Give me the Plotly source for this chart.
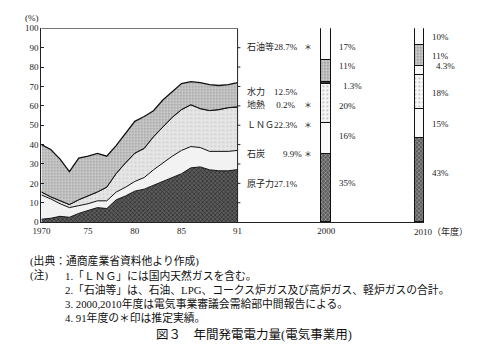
import plotly.graph_objects as go

# ---------------- data ----------------
years = list(range(1970, 1992))
nuclear = [1.5, 2, 3, 2.5, 4.5, 6, 7.5, 7, 11.5, 13.5, 16, 17, 19, 21, 23, 25, 28, 28.5, 27, 26.5, 26.5, 27.1]
coal = [12.5, 10, 6.5, 5, 4, 3.5, 3.5, 4, 4, 4.5, 5, 6, 8, 9.5, 11, 12, 11, 10, 9.5, 10, 10, 9.9]
lng = [1.5, 1, 1.5, 1.5, 3, 4, 4.5, 7, 9.5, 12.5, 14.5, 15, 17, 18.5, 20, 21, 21.5, 20, 21, 21.5, 22.5, 22.3]
geothermal = [0.1] * 21 + [0.2]
hydro = [24.4, 24.4, 21.4, 16.9, 21.4, 20.4, 19.9, 15.9, 14.4, 14.9, 16.4, 16.4, 13.4, 13.9,
         13.4, 13.4, 11.9, 13.4, 13.4, 12.4, 11.9, 12.5]

bar_years = [2000.5, 2010.5]
bar_nuclear = [35, 43]
bar_coal = [16, 15]
bar_lng = [20, 18]
bar_geo = [1.3, 4.3]
bar_hydro = [11, 11]
bar_oil = [17, 10]

x_tickvals = [1970, 1975, 1980, 1985, 1991, 2000.5]
x_ticktext = ["1970", "75", "80", "85", "91", "2000"]

side_labels = ["石油等28.7%", "水力　12.5%", "地熱　 0.2%", "ＬＮＧ22.3%", "石炭　　9.9%", "原子力27.1%"]
side_label_y = [43, 89, 102, 123, 153, 184]
side_star = [True, False, True, True, True, False]

bar2000_labels = ["17%", "11%", "1.3%", "20%", "16%", "35%"]
bar2000_y = [43, 63, 83, 104, 135, 183]
bar2000_x = [334, 334, 338, 334, 334, 334]
bar2010_labels = ["10%", "11%", "4.3%", "18%", "15%", "43%"]
bar2010_y = [33, 52, 63, 91, 123, 173]
bar2010_x = [429, 429, 433, 429, 429, 429]

notes = [
    "1.「ＬＮＧ」には国内天然ガスを含む。",
    "2.「石油等」は、石油、LPG、コークス炉ガス及び高炉ガス、軽炉ガスの合計。",
    "3. 2000,2010年度は電気事業審議会需給部中間報告による。",
    "4. 91年度の＊印は推定実績。",
]

W, H = 480, 351
def px(x):
    return x / W
def py(y):
    return 1 - y / H

SERIF = "Liberation Serif, Noto Sans CJK JP"
CJK = "Noto Sans CJK JP, Liberation Serif"

fig = go.Figure()

# ---------------- stacked areas ----------------
def area(name, vals, bg, fg=None, shape="", size=4, sol=0.3, lw=1):
    kw = dict(x=years, y=vals, name=name, mode="lines", stackgroup="one",
              line=dict(color="#111", width=lw), fillcolor=bg, hoverinfo="skip")
    if shape:
        kw["fillpattern"] = dict(shape=shape, bgcolor=bg, fgcolor=fg or bg, size=size,
                                 solidity=sol, fillmode="replace")
    fig.add_trace(go.Scatter(**kw))

area("原子力", nuclear, "#5c5c5c", "#222", "x", 3, 0.35)
area("石炭", coal, "#f2f2f2")
area("LNG", lng, "#e6e6e6", "#cfcfcf", ".", 4, 0.2)
area("地熱", geothermal, "#777", lw=1)
area("水力", hydro, "#cdcdcd", "#9a9a9a", ".", 3, 0.3, lw=1.3)

# ---------------- bars ----------------
def bar(vals, colors, shape="", fg="#222", size=3, sol=0.35):
    mk = dict(color=colors, line=dict(color="#111", width=1))
    if shape:
        mk["pattern"] = dict(shape=shape, fgcolor=fg, size=size, solidity=sol, fillmode="overlay")
    fig.add_trace(go.Bar(x=bar_years, y=vals, width=1.0, marker=mk, showlegend=False, hoverinfo="skip"))

bar(bar_nuclear, ["#5c5c5c", "#5c5c5c"], "x")
bar(bar_coal, ["#fafafa", "#fafafa"])
bar(bar_lng, ["#f6f6f6", "#f8f8f8"], ".", "#e0e0e0", 4, 0.15)
bar(bar_geo, ["#333", "#fafafa"])
bar(bar_hydro, ["#d0d0d0", "#d0d0d0"], ".", "#999", 3, 0.3)
bar(bar_oil, ["#fcfcfc", "#fcfcfc"])

# ---------------- frame ----------------
shapes = [
    dict(type="line", xref="x", yref="y", x0=years[0], x1=years[-1], y0=100, y1=100, line=dict(color="#222", width=1)),
    dict(type="line", xref="x", yref="y", x0=years[-1], x1=years[-1], y0=0, y1=100, line=dict(color="#222", width=1)),
]
for k in range(10, 100, 10):
    shapes.append(dict(type="line", xref="x", yref="y", x0=years[-1], x1=years[-1] + 0.3, y0=k, y1=k,
                       line=dict(color="#222", width=1)))

ann = []
def text(x, y, t, family=SERIF, size=9, anchor="left", h=None, color="#222"):
    d = dict(x=px(x), y=py(y), xref="paper", yref="paper", text=t, showarrow=False,
             xanchor=anchor, yanchor="middle", font=dict(family=family, size=size, color=color))
    if h:
        d["height"] = h
    ann.append(d)

text(14, 13, "(%)")
for t, yy, st in zip(side_labels, side_label_y, side_star):
    text(241, yy, t, h=11)
    if st:
        text(305, yy, "＊", family=CJK, size=8, anchor="center", h=11)
for t, xx, yy in zip(bar2000_labels, bar2000_x, bar2000_y):
    text(xx, yy, t, h=10)
for t, xx, yy in zip(bar2010_labels, bar2010_x, bar2010_y):
    text(xx, yy, t, h=10)
text(411, 233, "2010（年度）")

note_y = [278, 292, 307, 321]
text(19, 263, "(出典：通商産業省資料他より作成)", size=10.8, h=14, color="#111")
text(19, 278, "(注)", size=10.8, h=14, color="#111")
for t, yy in zip(notes, note_y):
    text(55, yy, t, size=10.8, h=14, color="#111")
text(148, 339, "図３　年間発電電力量(電気事業用)", size=12.5, h=16, color="#111")

fig.update_layout(
    width=W, height=H, margin=dict(l=0, r=0, t=0, b=0),
    paper_bgcolor="white", plot_bgcolor="white",
    showlegend=False, barmode="stack", bargap=0,
    shapes=shapes, annotations=ann,
    xaxis=dict(domain=[px(33), px(423.4)], range=[1970, 2011], showline=True, linecolor="#222", linewidth=1,
               showgrid=False, zeroline=False, ticks="", tickvals=x_tickvals, ticktext=x_ticktext,
               tickfont=dict(family=SERIF, size=9, color="#222")),
    yaxis=dict(domain=[py(223.5), py(24)], range=[0, 100], showline=True, linecolor="#222", linewidth=1,
               showgrid=False, zeroline=False, ticks="inside", ticklen=3, tickcolor="#222", dtick=10,
               tickfont=dict(family=SERIF, size=9, color="#222")),
)

fig.write_html("out.html")
